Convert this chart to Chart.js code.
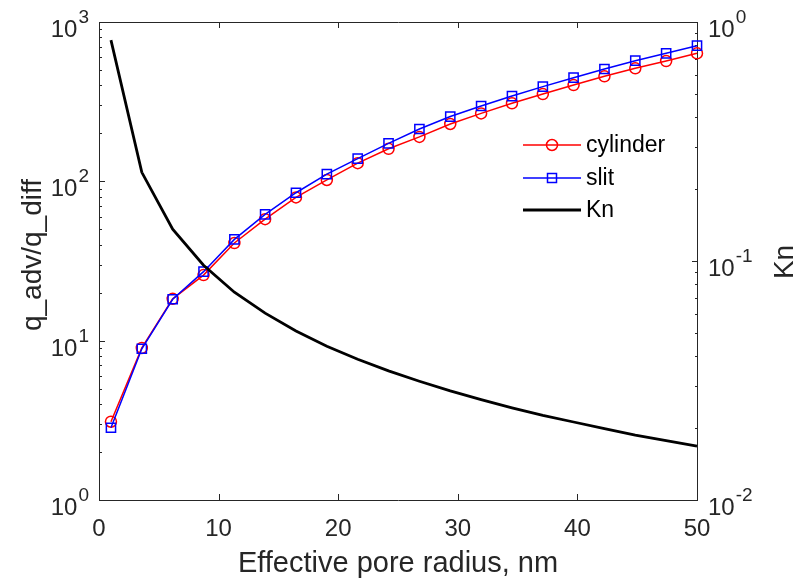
<!DOCTYPE html>
<html>
<head>
<meta charset="utf-8">
<script src="https://cdn.jsdelivr.net/npm/chart.js@4.4.1/dist/chart.umd.min.js"></script>
<style>
  body { margin: 0; background: #fff; }
  #wrap { width: 798px; height: 584px; }
</style>
</head>
<body>
<div id="wrap"><canvas id="poreChart" width="798" height="584"></canvas></div>
<script>
// values
const radius = [1, 3.58, 6.16, 8.74, 11.32, 13.89, 16.47, 19.05, 21.63, 24.21,
                26.79, 29.37, 31.95, 34.53, 37.11, 39.68, 42.26, 44.84, 47.42, 50];
const cylinder = [3.1, 9.0, 18.3, 25.8, 41.0, 57.9, 79.3, 102, 130, 160,
                  190, 229, 267, 309, 353, 402, 456, 512, 569, 636];
const slit = [2.84, 8.9, 18.2, 27.1, 43.2, 62.1, 84.8, 111, 139, 173,
              213, 255, 297, 343, 393, 447, 507, 572, 636, 710];
const knudsen = [0.84, 0.235, 0.136, 0.096, 0.074, 0.0605, 0.051, 0.044, 0.0388, 0.0347,
                 0.0314, 0.0286, 0.0263, 0.0243, 0.0226, 0.0212, 0.0199, 0.0187, 0.0177, 0.0168];

const xTicks = [0, 10, 20, 30, 40, 50];
const leftTicks = [1, 10, 100, 1000];
const leftExp = ["0", "1", "2", "3"];
const rightTicks = [0.01, 0.1, 1];
const rightExp = ["-2", "-1", "0"];

const xTitle = "Effective pore radius, nm";
const yTitle = "q_adv/q_diff";
const y1Title = "Kn";

const FONT = '"Liberation Sans", Arial, Helvetica, sans-serif';
const AXIS_COLOR = "#262626";

const pts = (ys) => radius.map((r, i) => ({ x: r, y: ys[i] }));

function minorValues(min, max) {
    const out = [];
    for (let d = min; d < max; d *= 10) {
        for (let k = 2; k <= 9; k++) out.push(d * k);
    }
    return out;
}

const axisPainter = {
    id: "axisPainter",
    beforeDatasetsDraw(chart) {
        const { ctx, chartArea: a, scales } = chart;
        ctx.save();
        ctx.strokeStyle = AXIS_COLOR;
        ctx.lineWidth = 1;
        ctx.beginPath();
        ctx.rect(a.left + 0.5, a.top + 0.5, a.right - a.left, a.bottom - a.top);
        ctx.stroke();

        ctx.beginPath();
        xTicks.forEach((t) => {
            const px = Math.round(scales.x.getPixelForValue(t)) + 0.5;
            ctx.moveTo(px, a.bottom);
            ctx.lineTo(px, a.bottom - 6);
            ctx.moveTo(px, a.top);
            ctx.lineTo(px, a.top + 6);
        });
        leftTicks.forEach((t) => {
            const py = Math.round(scales.y.getPixelForValue(t)) + 0.5;
            ctx.moveTo(a.left, py);
            ctx.lineTo(a.left + 6, py);
        });
        minorValues(1, 1000).forEach((t) => {
            const py = Math.round(scales.y.getPixelForValue(t)) + 0.5;
            ctx.moveTo(a.left, py);
            ctx.lineTo(a.left + 3, py);
        });
        rightTicks.forEach((t) => {
            const py = Math.round(scales.y1.getPixelForValue(t)) + 0.5;
            ctx.moveTo(a.right + 1, py);
            ctx.lineTo(a.right - 5, py);
        });
        minorValues(0.01, 1).forEach((t) => {
            const py = Math.round(scales.y1.getPixelForValue(t)) + 0.5;
            ctx.moveTo(a.right + 1, py);
            ctx.lineTo(a.right - 2, py);
        });
        ctx.stroke();
        ctx.restore();
    },
    afterDraw(chart) {
        const { ctx, chartArea: a, scales } = chart;
        ctx.save();
        ctx.fillStyle = AXIS_COLOR;

        // x tick labels
        ctx.font = "24px " + FONT;
        ctx.textAlign = "center";
        ctx.textBaseline = "middle";
        xTicks.forEach((t) => {
            ctx.fillText(String(t), scales.x.getPixelForValue(t), a.bottom + 29);
        });

        // log tick labels with superscripts
        ctx.textBaseline = "alphabetic";
        ctx.textAlign = "left";
        leftTicks.forEach((t, i) => {
            const py = scales.y.getPixelForValue(t);
            ctx.font = "19px " + FONT;
            const ew = ctx.measureText(leftExp[i]).width;
            ctx.font = "24px " + FONT;
            const mw = ctx.measureText("10").width;
            const right = a.left - 10;
            ctx.fillText("10", right - ew - mw - 1, py + 15);
            ctx.font = "19px " + FONT;
            ctx.fillText(leftExp[i], right - ew, py + 1);
        });
        rightTicks.forEach((t, i) => {
            const py = scales.y1.getPixelForValue(t);
            ctx.font = "24px " + FONT;
            const mw = ctx.measureText("10").width;
            const left = a.right + 11;
            ctx.fillText("10", left, py + 15);
            ctx.font = "19px " + FONT;
            ctx.fillText(rightExp[i], left + mw + 1, py + 1);
        });

        // axis titles
        ctx.textAlign = "center";
        ctx.textBaseline = "middle";
        ctx.font = "29px " + FONT;
        ctx.fillText(xTitle, (a.left + a.right) / 2, a.bottom + 64);

        ctx.textBaseline = "alphabetic";
        ctx.font = "28px " + FONT;
        ctx.save();
        ctx.translate(41, 255);
        ctx.rotate(-Math.PI / 2);
        ctx.fillText(yTitle, 0, 0);
        ctx.restore();

        ctx.save();
        ctx.translate(793, 262);
        ctx.rotate(-Math.PI / 2);
        ctx.fillText(y1Title, 0, 0);
        ctx.restore();

        // legend
        const rows = [145, 178, 210];
        chart.data.datasets.forEach((ds, i) => {
            const y = rows[i];
            ctx.strokeStyle = ds.borderColor;
            ctx.lineWidth = ds.borderWidth;
            ctx.beginPath();
            ctx.moveTo(523, y);
            ctx.lineTo(581, y);
            ctx.stroke();
            if (ds.pointStyle === "circle" && ds.pointRadius > 0) {
                ctx.lineWidth = 1.5;
                ctx.beginPath();
                ctx.arc(552, y, 5.5, 0, Math.PI * 2);
                ctx.stroke();
            } else if (ds.pointStyle === "rect" && ds.pointRadius > 0) {
                ctx.lineWidth = 1.5;
                ctx.strokeRect(547.5, y - 4.5, 9, 9);
            }
            ctx.fillStyle = "#000";
            ctx.font = "23px " + FONT;
            ctx.textAlign = "left";
            ctx.textBaseline = "middle";
            ctx.fillText(ds.label, 586, y + 1);
        });
        ctx.restore();
    }
};

const ctx = document.getElementById("poreChart").getContext("2d");

const poreChart = new Chart(ctx, {
    type: "line",
    data: {
        datasets: [
            {
                label: "cylinder",
                data: pts(cylinder),
                yAxisID: "y",
                borderColor: "#ff0000",
                backgroundColor: "rgba(0,0,0,0)",
                borderWidth: 1.5,
                pointStyle: "circle",
                pointRadius: 5.5,
                pointBorderWidth: 1.5,
                pointBorderColor: "#ff0000",
                pointBackgroundColor: "rgba(0,0,0,0)",
                tension: 0,
                clip: false,
                order: 2
            },
            {
                label: "slit",
                data: pts(slit),
                yAxisID: "y",
                borderColor: "#0000ff",
                backgroundColor: "rgba(0,0,0,0)",
                borderWidth: 1.5,
                pointStyle: "rect",
                pointRadius: 6.5,
                pointBorderWidth: 1.5,
                pointBorderColor: "#0000ff",
                pointBackgroundColor: "rgba(0,0,0,0)",
                tension: 0,
                clip: false,
                order: 1
            },
            {
                label: "Kn",
                data: pts(knudsen),
                yAxisID: "y1",
                borderColor: "#000000",
                backgroundColor: "rgba(0,0,0,0)",
                borderWidth: 2.8,
                pointStyle: "line",
                pointRadius: 0,
                tension: 0,
                clip: false,
                order: 0
            }
        ]
    },
    options: {
        responsive: false,
        animation: false,
        events: [],
        layout: { padding: { top: 22, left: 0, right: 0, bottom: 0 } },
        plugins: {
            legend: { display: false },
            tooltip: { enabled: false },
            title: { display: false }
        },
        scales: {
            x: {
                type: "linear",
                min: 0,
                max: 50,
                ticks: { display: false },
                grid: { display: false },
                border: { display: false },
                afterFit: (scale) => { scale.height = 84; }
            },
            y: {
                type: "logarithmic",
                position: "left",
                min: 1,
                max: 1000,
                ticks: { display: false },
                grid: { display: false },
                border: { display: false },
                afterFit: (scale) => { scale.width = 99; }
            },
            y1: {
                type: "logarithmic",
                position: "right",
                min: 0.01,
                max: 1,
                ticks: { display: false },
                grid: { display: false },
                border: { display: false },
                afterFit: (scale) => { scale.width = 101; }
            }
        }
    },
    plugins: [axisPainter]
});
</script>
</body>
</html>
